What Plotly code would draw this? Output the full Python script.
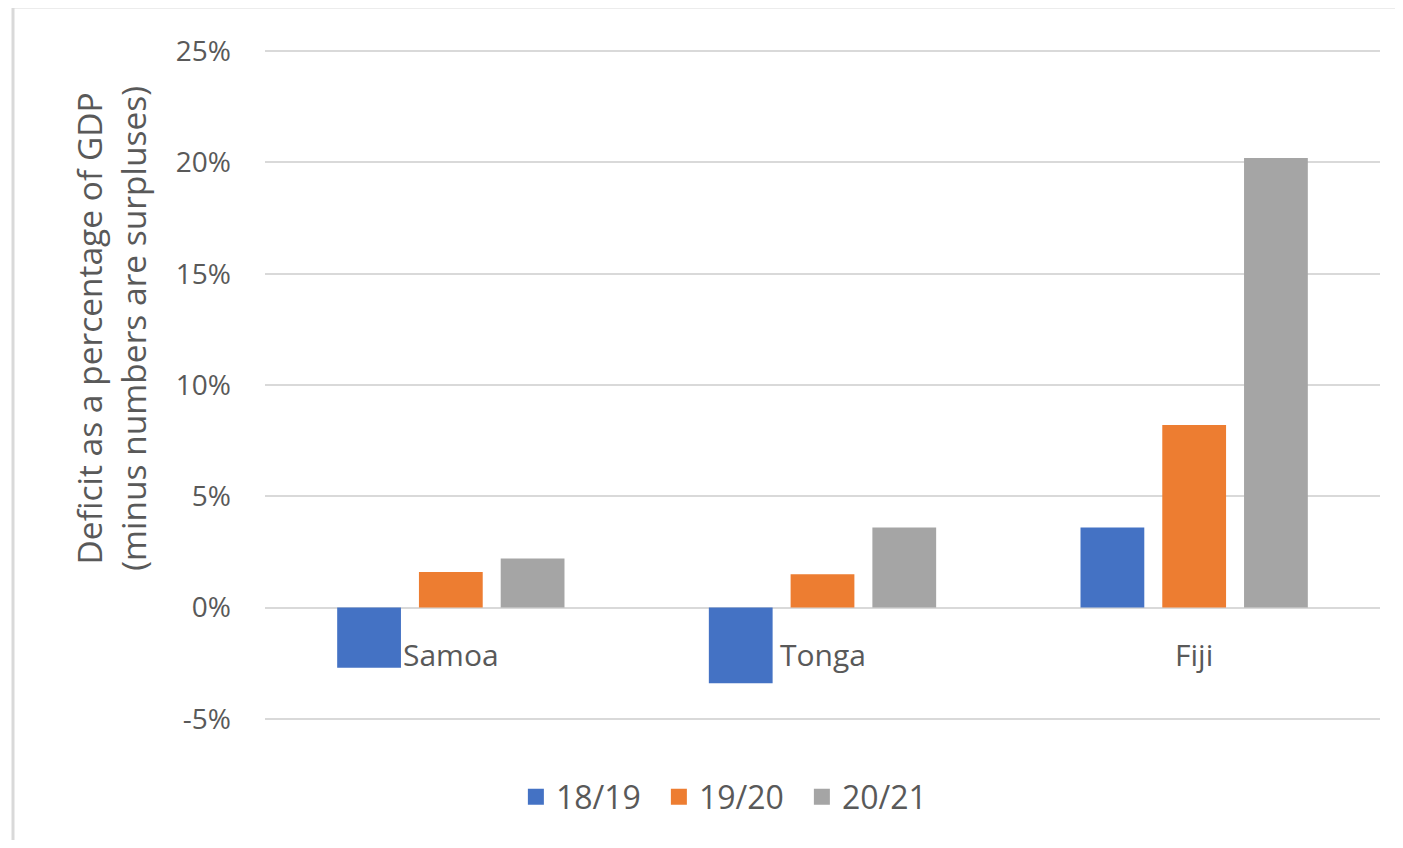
import plotly.graph_objects as go

# data (deficit as % of GDP)
countries = ["Samoa", "Tonga", "Fiji"]
years = ["18/19", "19/20", "20/21"]
fy1819 = [-2.7, -3.4, 3.6]
fy1920 = [1.6, 1.5, 8.2]
fy2021 = [2.2, 3.6, 20.2]
colors = ["#4472C4", "#ED7D31", "#A5A5A5"]

tick_vals = [-5, 0, 5, 10, 15, 20, 25]
tick_text = ["-5%", "0%", "5%", "10%", "15%", "20%", "25%"]

text_color = "#595959"
font_family = "Open Sans"

fig = go.Figure()
for name, vals, col in zip(years, [fy1819, fy1920, fy2021], colors):
    fig.add_trace(go.Bar(x=countries, y=vals, name=name, showlegend=False,
                         marker=dict(color=col, line=dict(width=0))))
    # legend entry with a bigger square, like the Excel legend
    fig.add_trace(go.Scatter(x=[None], y=[None], mode="markers", name=name,
                             marker=dict(symbol="square", size=20, color=col)))

# category labels sit just under the zero line, like Excel does
for c in countries:
    fig.add_annotation(x=c, y=0, xref="x", yref="y", text=c, showarrow=False,
                       yanchor="middle", yshift=-47,
                       font=dict(family=font_family, size=30, color=text_color))

# y axis title (Excel centres it a bit higher than the plot)
fig.add_annotation(x=-0.138, y=0.584, xref="paper", yref="paper", textangle=-90,
                   text="Deficit as a percentage of GDP<br>(minus numbers are surpluses)",
                   showarrow=False, xanchor="center", yanchor="middle",
                   font=dict(family=font_family, size=33.5, color=text_color))

# light border around the whole chart area
fig.add_shape(type="rect", xref="paper", yref="paper",
              x0=-0.226, x1=1.2, y0=-0.5, y1=1.064,
              line=dict(color="#D9D9D9", width=3), layer="below")

fig.update_layout(
    width=1387, height=832,
    margin=dict(l=257, r=15, t=42, b=120),
    plot_bgcolor="white", paper_bgcolor="white",
    barmode="group", bargap=0.34, bargroupgap=0.22,
    font=dict(family=font_family, size=28, color=text_color),
    showlegend=True,
    legend=dict(orientation="h", x=0.225, xanchor="left", y=-0.115, yanchor="middle",
                font=dict(size=32, color=text_color), entrywidth=98,
                entrywidthmode="pixels"),
    xaxis=dict(showticklabels=False, showgrid=False, zeroline=False, showline=False,
               range=[-0.5, 2.5]),
    yaxis=dict(range=[-5.05, 25.05], tickvals=tick_vals, ticktext=tick_text,
               showgrid=True, gridcolor="#D9D9D9", gridwidth=2,
               zeroline=False, showline=False, ticks="", ticklabelstandoff=33),
)

fig.write_html("out.html")
